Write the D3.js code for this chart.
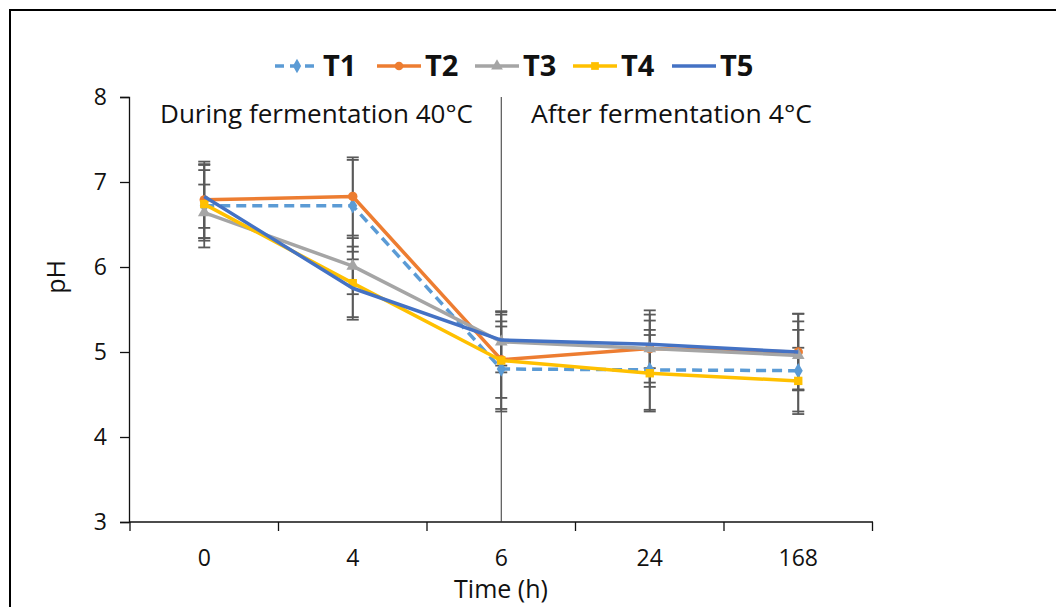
<!DOCTYPE html>
<meta charset="utf-8">
<style>
body { margin: 0; background: #fff; font-family: "Open Sans", Arial, sans-serif; }
.tick text { font-family: "Open Sans", Arial, sans-serif; }
</style>
<body>
<script src="https://d3js.org/d3.v7.min.js"></script>
<script>
// categories and values
var times = ["0", "4", "6", "24", "168"];
var seriesNames = ["T1", "T2", "T3", "T4", "T5"];
var t1 = [6.72, 6.72, 4.80, 4.79, 4.78];
var t2 = [6.79, 6.83, 4.91, 5.04, 5.00];
var t3 = [6.64, 6.01, 5.12, 5.04, 4.96];
var t4 = [6.74, 5.81, 4.90, 4.75, 4.66];
var t5 = [6.83, 5.75, 5.14, 5.09, 5.00];
// error bar half widths (pH)
var e1 = [0.49, 0.54, 0.50, 0.47, 0.48];
var e2 = [0.45, 0.46, 0.45, 0.45, 0.45];
var e3 = [0.33, 0.33, 0.36, 0.40, 0.40];
var e4 = [0.40, 0.43, 0.57, 0.45, 0.39];
var e5 = [0.37, 0.34, 0.30, 0.28, 0.45];
var yTicks = [3, 4, 5, 6, 7, 8];

var colors = ["#5B9BD5", "#ED7D31", "#A5A5A5", "#FFC000", "#4472C4"];
var symbols = [d3.symbolDiamond, d3.symbolCircle, d3.symbolTriangle, d3.symbolSquare, null];
var values = [t1, t2, t3, t4, t5];
var errs = [e1, e2, e3, e4, e5];

var W = 1056, H = 607;
var svg = d3.select("body").append("svg").attr("width", W).attr("height", H);

// outer frame
svg.append("rect")
    .attr("x", 10).attr("y", 10)
    .attr("width", 1100).attr("height", 700)
    .attr("fill", "none").attr("stroke", "#000").attr("stroke-width", 2);

var x = d3.scaleBand().domain(times).range([130, 872.5]).padding(0);
var y = d3.scaleLinear().domain([3, 8]).range([522, 97]);
var cx = function(i) { return x(times[i]) + x.bandwidth() / 2; };

// y axis
var yAxis = svg.append("g")
    .attr("transform", "translate(129,0)")
    .call(d3.axisLeft(y).tickValues(yTicks).tickSize(9).tickPadding(13).tickFormat(d3.format("d")));
yAxis.selectAll("text").style("font-size", "23px").attr("fill", "#111");
yAxis.selectAll("line, path").attr("stroke", "#111").attr("stroke-width", 1.3);

// x axis: ticks at band boundaries
var xg = svg.append("g").attr("transform", "translate(0,522)");
xg.append("line").attr("x1", 129).attr("x2", 873).attr("stroke", "#111").attr("stroke-width", 1.3);
var bounds = times.map(function(t) { return x(t); }).concat([x.range()[1]]);
xg.selectAll(".bt").data(bounds).enter().append("line")
    .attr("x1", function(d) { return d; }).attr("x2", function(d) { return d; })
    .attr("y1", 0).attr("y2", 9).attr("stroke", "#111").attr("stroke-width", 1.3);
xg.selectAll(".lbl").data(times).enter().append("text")
    .attr("x", function(d) { return x(d) + x.bandwidth() / 2; })
    .attr("y", 44).attr("text-anchor", "middle")
    .style("font-size", "23px").attr("fill", "#111")
    .text(function(d) { return d; });

// axis titles
svg.append("text").attr("x", 501).attr("y", 598).attr("text-anchor", "middle")
    .style("font-size", "25px").attr("fill", "#111").text("Time (h)");
svg.append("text").attr("transform", "translate(65,277) rotate(-90)").attr("text-anchor", "middle")
    .style("font-size", "25px").attr("fill", "#111").text("pH");

// divider at 6 h
svg.append("line").attr("x1", cx(2)).attr("x2", cx(2)).attr("y1", y(8)).attr("y2", y(3))
    .attr("stroke", "#333").attr("stroke-width", 1);

// phase annotations
svg.append("text").attr("x", 160).attr("y", 123).style("font-size", "26px").attr("fill", "#111")
    .attr("textLength", 313).attr("lengthAdjust", "spacingAndGlyphs")
    .text("During fermentation 40°C");
svg.append("text").attr("x", 531).attr("y", 123).style("font-size", "26px").attr("fill", "#111")
    .attr("textLength", 281).attr("lengthAdjust", "spacingAndGlyphs")
    .text("After fermentation 4°C");

// error bars
values.forEach(function(vals, s) {
  var g = svg.append("g").attr("stroke", "#595959").attr("stroke-width", 1.8);
  vals.forEach(function(v, i) {
    var lo = y(v - errs[s][i]), hi = y(v + errs[s][i]);
    g.append("line").attr("x1", cx(i)).attr("x2", cx(i)).attr("y1", lo).attr("y2", hi);
    g.append("line").attr("x1", cx(i) - 6).attr("x2", cx(i) + 6).attr("y1", lo).attr("y2", lo);
    g.append("line").attr("x1", cx(i) - 6).attr("x2", cx(i) + 6).attr("y1", hi).attr("y2", hi);
  });
});

// lines and markers
var line = d3.line().x(function(d, i) { return cx(i); }).y(function(d) { return y(d); });
values.forEach(function(vals, s) {
  svg.append("path").datum(vals)
      .attr("d", line).attr("fill", "none")
      .attr("stroke", colors[s]).attr("stroke-width", 3.5)
      .attr("stroke-linejoin", "round")
      .attr("stroke-dasharray", s === 0 ? "10,6" : null);
  if (symbols[s]) {
    svg.selectAll(null).data(vals).enter().append("path")
        .attr("transform", function(d, i) { return "translate(" + cx(i) + "," + y(d) + ")"; })
        .attr("d", d3.symbol().type(symbols[s]).size(70))
        .attr("fill", colors[s]);
  }
});

// legend
var legX = [275, 377, 475, 573, 672];
seriesNames.forEach(function(name, s) {
  var g = svg.append("g").attr("transform", "translate(" + legX[s] + ",66)");
  g.append("line").attr("x1", 0).attr("x2", 44).attr("y1", 0).attr("y2", 0)
      .attr("stroke", colors[s]).attr("stroke-width", 3.5)
      .attr("stroke-dasharray", s === 0 ? "9,6" : null);
  if (symbols[s]) {
    g.append("path").attr("transform", "translate(22,0)")
        .attr("d", d3.symbol().type(symbols[s]).size(60)).attr("fill", colors[s]);
  }
  g.append("text").attr("x", 48).attr("y", 10).style("font-size", "29px")
      .style("font-weight", "bold").attr("fill", "#111").text(name);
});
</script>
</body>
